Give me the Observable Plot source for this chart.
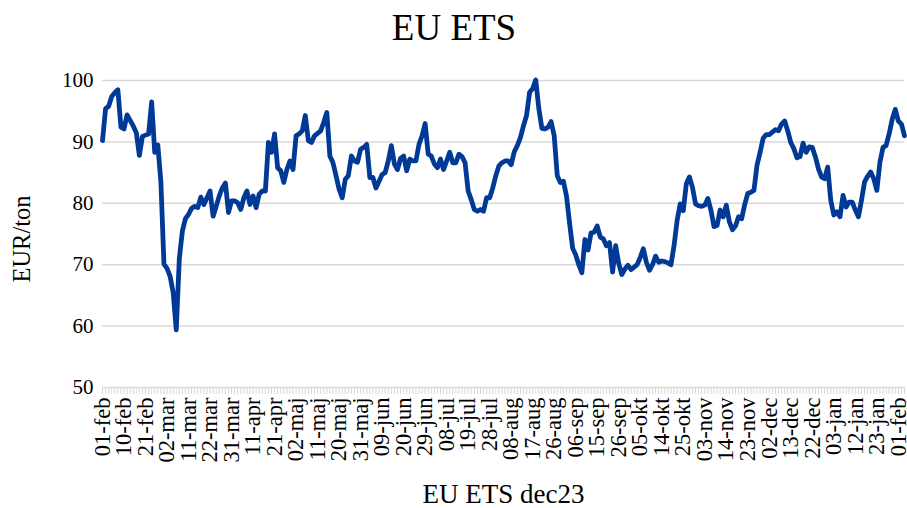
<!DOCTYPE html>
<html><head><meta charset="utf-8">
<script src="https://cdn.jsdelivr.net/npm/d3@7"></script>
<script src="https://cdn.jsdelivr.net/npm/@observablehq/plot@0.6"></script>
<style>body{margin:0;background:#fff}</style>
</head><body><div id="chart"></div>
<script>
const chartTitle = "EU ETS";
const yTitle = "EUR/ton";
const xTitle = "EU ETS dec23";
const yTicks = [50, 60, 70, 80, 90, 100];
const tickEvery = 7;
const tickLabels = ["01-feb","10-feb","21-feb","02-mar","11-mar","22-mar","31-mar","11-apr","21-apr","02-maj","11-maj","20-maj","31-maj","09-jun","20-jun","29-jun","08-jul","19-jul","28-jul","08-aug","17-aug","26-aug","06-sep","15-sep","26-sep","05-okt","14-okt","25-okt","03-nov","14-nov","23-nov","02-dec","13-dec","22-dec","03-jan","12-jan","23-jan","01-feb"];
const prices = [
90.2,95.4,95.8,97.4,98.0,98.5,92.4,92.1,94.4,93.5,
92.6,91.5,87.8,90.9,91.1,91.3,96.5,88.3,89.5,83.5,
70.1,69.4,68.1,65.5,59.4,71.0,75.5,77.5,78.2,79.2,
79.5,79.3,81.0,79.8,80.9,82.0,77.9,79.5,81.2,82.5,
83.3,78.5,80.4,80.4,80.1,79.0,80.9,82.0,79.8,81.2,
79.3,81.5,82.0,82.0,89.9,88.3,91.3,85.8,85.3,83.4,
85.5,86.9,85.5,91.0,91.3,91.8,94.3,90.2,89.9,91.0,
91.4,91.8,93.2,94.8,87.7,86.6,84.5,82.3,80.9,83.9,
84.5,87.7,86.9,86.7,88.8,89.1,89.6,84.2,84.2,82.5,
83.6,84.7,85.0,86.9,89.4,86.4,85.5,87.3,87.7,85.3,
87.2,86.9,86.9,89.6,91.0,93.0,88.0,87.7,86.4,85.8,
87.2,85.5,86.9,88.3,86.6,86.6,88.0,87.6,86.6,82.0,
80.6,79.0,78.7,79.0,78.7,80.9,80.9,82.5,84.5,86.1,
86.6,86.9,86.9,86.3,88.4,89.4,90.7,92.6,94.3,98.1,
98.7,100.1,95.4,92.2,92.1,92.4,93.3,91.0,84.5,83.4,
83.6,81.2,76.8,72.7,71.6,70.0,68.7,74.1,72.4,75.2,
75.3,76.3,74.5,74.2,73.1,73.6,68.8,73.1,70.2,68.4,
69.3,69.9,69.2,69.6,70.0,71.2,72.6,70.4,69.1,70.0,
71.4,70.4,70.6,70.5,70.3,70.0,73.1,77.2,79.9,78.8,
83.2,84.3,82.6,79.9,79.6,79.5,79.7,80.8,78.9,76.2,
76.4,78.9,77.8,79.7,77.0,75.7,76.3,77.8,77.5,79.8,
81.6,81.8,82.1,86.2,88.3,90.6,91.2,91.2,91.6,92.0,
91.8,92.9,93.4,91.8,89.9,88.9,87.4,87.6,89.8,88.3,
89.2,89.1,87.6,85.6,84.3,84.0,85.9,80.5,78.1,78.6,
77.8,81.3,79.4,80.2,80.2,78.9,77.8,80.5,83.5,84.4,
85.1,84.0,82.1,86.7,89.1,89.4,91.3,93.7,95.3,93.4,
92.9,91.0
];

const data = prices.map((v, i) => ({i, v}));
const allIdx = prices.map((_, i) => i);
const labelData = tickLabels.map((t, k) => ({i: k * tickEvery, t}));

const serif = "'Liberation Serif', 'Times New Roman', Times, serif";

const chart = Plot.plot({
  width: 907,
  height: 508,
  marginTop: 80,
  marginBottom: 121,
  marginLeft: 102,
  marginRight: 3,
  style: {fontFamily: serif, background: "#fff", color: "#000", overflow: "visible"},
  x: {domain: [0, prices.length - 1], axis: null},
  y: {domain: [50, 100], axis: null},
  marks: [
    Plot.ruleY(yTicks, {y: d => d, stroke: "#d9d9d9", strokeWidth: 1.5}),
    Plot.axisX({ticks: allIdx, tickSize: 7, tickFormat: () => "", stroke: "#d9d9d9", strokeWidth: 1, label: null}),
    Plot.text(yTicks, {y: d => d, text: d => String(d), frameAnchor: "left", dx: -9, textAnchor: "end", lineAnchor: "middle", fontSize: 21, fill: "#000"}),
    Plot.text(labelData, {x: "i", text: "t", frameAnchor: "bottom", dy: 10, rotate: -90, textAnchor: "end", lineAnchor: "middle", fontSize: 22.5, fill: "#000"}),
    Plot.line(data, {x: "i", y: "v", stroke: "#003a96", strokeWidth: 4.8, strokeLinejoin: "round", strokeLinecap: "round"}),
    Plot.text([chartTitle], {frameAnchor: "top", dx: -49.5, dy: -52, lineAnchor: "middle", textAnchor: "middle", fontSize: 37, fill: "#000"}),
    Plot.text([yTitle], {frameAnchor: "left", dx: -80, dy: 5, rotate: -90, textAnchor: "middle", lineAnchor: "middle", fontSize: 24.5, fill: "#000"}),
    Plot.text([xTitle], {frameAnchor: "bottom", dy: 107, lineAnchor: "middle", textAnchor: "middle", fontSize: 27, fill: "#000"})
  ]
});
document.getElementById("chart").appendChild(chart);
</script>
</body></html>
